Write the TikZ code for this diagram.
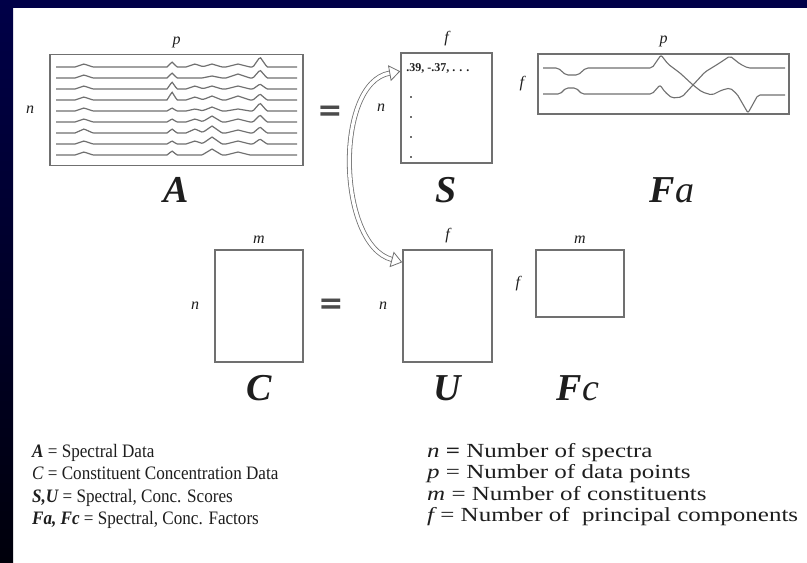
\documentclass[tikz,border=0pt]{standalone}
\usepackage{fontspec}
\setmainfont{Liberation Serif}
\newfontfamily\leyfont{Liberation Serif}[FakeStretch=0.9]
\newfontfamily\leydfont{Liberation Serif}[FakeStretch=1.25]
\newfontfamily\eqfont{DejaVu Sans}
\usetikzlibrary{positioning, arrows.meta, calc}
\definecolor{cfondo}{RGB}{0,0,72}
\definecolor{clinea}{RGB}{112,112,112}
\definecolor{ctexto}{RGB}{30,30,30}

\begin{document}
\begin{tikzpicture}[x=1pt, y=-1pt,
    mat/.style={draw=clinea, line width=1.5pt, inner sep=0pt, fill=white},
    dim/.style={font=\fontsize{16}{16}\selectfont\itshape, text=ctexto, inner sep=1pt},
    big/.style={font=\fontsize{38}{38}\selectfont\bfseries\itshape, text=ctexto, inner sep=0pt, anchor=base},
    eq/.style={font=\eqfont\fontsize{30}{30}\selectfont\bfseries, text=ctexto!80, inner sep=0pt},
    ley/.style={font=\leyfont\fontsize{19}{19}\selectfont, text=ctexto, anchor=base west, inner sep=0pt},
    leyd/.style={font=\leydfont\fontsize{20}{20}\selectfont, text=ctexto, anchor=base west, inner sep=0pt},
    spec/.style={clinea, line width=1.2pt},
    curva/.style={clinea, line width=1.1pt, rounded corners=2pt},
    flecha/.style={draw=clinea, line width=0.8pt, double=white, double distance=3.4pt,
        >={Triangle[open, length=11pt, width=16pt]}, <->},
    declare function={tri(\t,\m,\w)=max(0,1-abs(\t-\m)/\w);}]

  % fondo
  \useasboundingbox (0,0) rectangle (807,563);
  \fill[white] (0,0) rectangle (807,563);
  \fill[cfondo] (0,0) rectangle (807,8);
  \shade[top color=cfondo, bottom color=black!85!cfondo] (0,0) rectangle (13,563);

  % matrices
  \node[mat, minimum width=253pt, minimum height=111pt] (A) at (176.5,110) {};
  \node[mat, minimum width=91pt, minimum height=110pt] (S) at (446.5,108) {};
  \node[mat, minimum width=251pt, minimum height=60pt] (Fa) at (663.5,84) {};
  \node[mat, minimum width=88pt, minimum height=112pt] (C) at (259,306) {};
  \node[mat, minimum width=89pt, minimum height=112pt] (U) at (447.5,306) {};
  \node[mat, minimum width=88pt, minimum height=67pt] (Fc) at (580,283.5) {};

  % espectros en A
  \foreach \k/\ua/\ub/\uc/\ud/\ue/\uf in {0/3/5/3/3/3/10, 1/3/5/0/2/4/8, 2/3/7/3/3/3/5,
      3/3/8/3/4/4/6, 4/3/3/2/4/2/8, 5/3/3/3/6/3/7, 6/4/4/4/7/3/6, 7/3/3/3/7/3/5, 8/3/4/0/6/3/0}
    \draw[spec] plot[domain=56:297, samples=140] (\x, {67+11*\k - \ua*tri(\x,84,9)
      - \ub*tri(\x,172,5) - \uc*tri(\x,195,9) - \ud*tri(\x,212,10) - \ue*tri(\x,238,12) - \uf*tri(\x,260,7)});

  % factores en Fa
  \draw[curva] (543,68) -- (558,68) -- (566,75) -- (578,75) -- (586,68) -- (652,68) -- (661,55)
    -- (668,64) -- (680,73) -- (693,85) -- (702,92) -- (712,95) -- (722,90) -- (730,88) -- (737,94)
    -- (748,113) -- (758,95) -- (785,95);
  \draw[curva] (543,94) -- (560,94) -- (566,88) -- (576,88) -- (582,94) -- (652,94) -- (660,85)
    -- (665,92) -- (672,98) -- (682,97) -- (693,85) -- (705,72) -- (718,64) -- (730,56) -- (740,64)
    -- (748,68) -- (785,68);

  % valores en S
  \node[font=\fontsize{12}{12}\selectfont\bfseries, text=ctexto, anchor=west, inner sep=0pt]
    (sval) at ([xshift=6pt, yshift=-16pt]S.north west) {.39, -.37, . . .};
  \foreach \yy in {97,117,137,157}
    \fill[clinea] (409.8,\yy-1.2) rectangle +(2.4,2.4);

  % dimensiones
  \node[dim, above=5pt of A] (dA) {p};
  \node[dim, left=14pt of A] (nA) {n};
  \node[dim, above=5pt of S] (dS) {f};
  \node[dim, left=14pt of S] (nS) {n};
  \node[dim, above=5pt of Fa] (dFa) {p};
  \node[dim, left=12pt of Fa] (nFa) {f};
  \node[dim, above=5pt of C] (dC) {m};
  \node[dim, left=14pt of C] (nC) {n};
  \node[dim, above=5pt of U] (dU) {f};
  \node[dim, left=14pt of U] (nU) {n};
  \node[dim, above=5pt of Fc] (dFc) {m};
  \node[dim, left=14pt of Fc] (nFc) {f};

  % nombres
  \node[big] (lA) at (A.south |- 0,202) {A};
  \node[big] (lS) at (S.south |- 0,202) {S};
  \node[big] (lFa) at (672,202) {F\textmd{a}};
  \node[big] (lC) at (C.south |- 0,400) {C};
  \node[big] (lU) at (U.south |- 0,400) {U};
  \node[big] (lFc) at (578,400) {F\textmd{c}};

  \node[eq] (eq1) at (330,113) {=};
  \node[eq] (eq2) at (331,306) {=};

  % relación S <-> U
  \coordinate (sarr) at ([yshift=-19pt]S.north west);
  \coordinate (uarr) at ([yshift=-13pt]U.north west);
  \draw[flecha] (sarr) to[out=190, in=165, looseness=0.9] (uarr);

  % leyenda
  \node[ley] (l1) at (32,457) {{\bfseries\itshape A} = Spectral Data};
  \node[ley] (l2) at ([yshift=-22.5pt]l1.base west) {{\itshape C} = Constituent Concentration Data};
  \node[ley] (l3) at ([yshift=-22.5pt]l2.base west) {{\bfseries\itshape S,U} = Spectral, Conc. Scores};
  \node[ley] (l4) at ([yshift=-22.5pt]l3.base west) {{\bfseries\itshape Fa, Fc} = Spectral, Conc. Factors};
  \node[leyd] (r1) at (427,457) {{\itshape n} \textbf{=} Number of spectra};
  \node[leyd] (r2) at ([yshift=-21.5pt]r1.base west) {{\itshape p} = Number of data points};
  \node[leyd] (r3) at ([yshift=-21.5pt]r2.base west) {{\itshape m} = Number of constituents};
  \node[leyd] (r4) at ([yshift=-21.5pt]r3.base west) {{\itshape f} = Number of\ \ principal components};
\end{tikzpicture}
\end{document}
